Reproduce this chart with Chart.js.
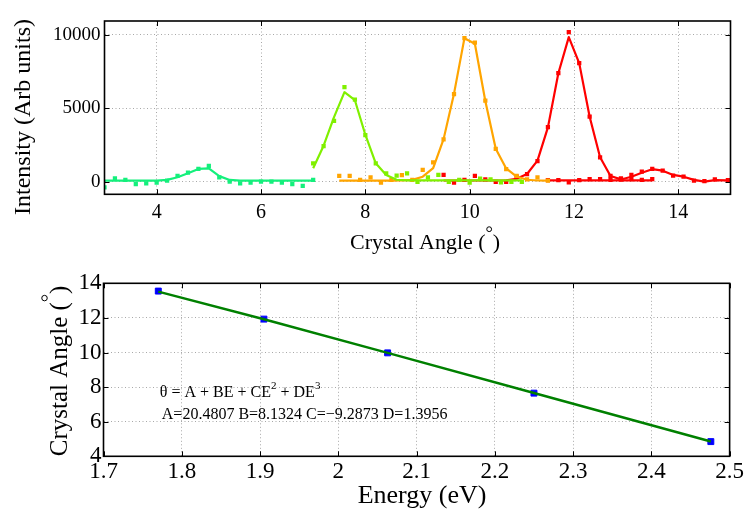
<!DOCTYPE html>
<html>
<head>
<meta charset="utf-8">
<script src="https://cdn.jsdelivr.net/npm/chart.js@4/dist/chart.umd.min.js"></script>
<style>
  html, body { margin: 0; padding: 0; background: #fff; }
  #wrap { position: relative; width: 746px; height: 514px; overflow: hidden; }
  canvas { position: absolute; left: 0; }
  #scanChart { top: 0; }
  #calChart { top: 262px; }
</style>
</head>
<body>
<div id="wrap">
  <canvas id="scanChart" width="746" height="262"></canvas>
  <canvas id="calChart" width="746" height="252"></canvas>
</div>
<script>
// ---- Angle scans (crystal angle in degrees, intensity in arbitrary units) ----
const angle500  = [3.0, 3.2, 3.4, 3.6, 3.8, 4.0, 4.2, 4.4, 4.6, 4.8, 5.0, 5.2, 5.4, 5.6, 5.8, 6.0, 6.2, 6.4, 6.6, 6.8, 7.0];
const counts500 = [-380, 230, 120, -160, -110, -70, 70, 390, 610, 870, 1070, 300, 0, -110, -70, 0, 0, -70, -160, -290, 120];
const fit500    = [70, 70, 70, 70, 70, 70, 120, 300, 580, 870, 910, 380, 120, 75, 70, 70, 70, 70, 70, 70, 70];

const angle550  = [7.0, 7.2, 7.4, 7.6, 7.8, 8.0, 8.2, 8.4, 8.6, 8.8, 9.0, 9.2, 9.4, 9.6, 9.8, 10.0, 10.2, 10.4, 10.6, 10.8, 11.0];
const counts550 = [1250, 2430, 4150, 6440, 5600, 3180, 1250, 570, 410, 570, -20, 300, 460, -20, 120, -70, 200, 160, -40, -20, -20];
const fit550    = [910, 2450, 4400, 6100, 5550, 3200, 1250, 450, 130, 90, 90, 90, 90, 90, 90, 90, 90, 90, 90, 90, 90];

const angle600  = [7.5, 7.7, 7.9, 8.1, 8.3, 8.5, 8.7, 8.9, 9.1, 9.3, 9.5, 9.7, 9.9, 10.1, 10.3, 10.5, 10.7, 10.9, 11.1, 11.3, 11.5];
const counts600 = [390, 390, 120, 300, -70, 120, 440, 120, 800, 1320, 2890, 5960, 9780, 9480, 5520, 2230, 850, 390, 160, 300, 70];
const fit600    = [70, 70, 70, 70, 70, 70, 80, 120, 340, 920, 2900, 6000, 9780, 9400, 5500, 2250, 900, 350, 130, 80, 70];

const angle650  = [9.5, 9.7, 9.9, 10.1, 10.3, 10.5, 10.7, 10.9, 11.1, 11.3, 11.5, 11.7, 11.9, 12.1, 12.3, 12.5, 12.7, 12.9];
const counts650 = [460, -70, 120, 390, 160, -20, -20, 340, 520, 1400, 3710, 7390, 10190, 8080, 4430, 1660, 390, 160];
const fit650    = [80, 80, 80, 80, 80, 80, 90, 200, 520, 1430, 3700, 7390, 9850, 8080, 4430, 1660, 390, 160];

const angle700a  = [11.5, 11.7, 11.9, 12.1, 12.3, 12.5, 12.7, 12.9, 13.1, 13.3, 13.5];
const counts700a = [100, 100, -40, 100, 180, 180, 120, 160, 180, 120, 180];
const fit700a    = [95, 95, 95, 95, 95, 95, 95, 95, 95, 95, 95];

const angle700b  = [12.9, 13.1, 13.3, 13.5, 13.7, 13.9, 14.1, 14.3, 14.5, 14.7, 14.95];
const counts700b = [230, 460, 680, 870, 750, 410, 340, 70, 30, 160, 100];
const fit700b    = [150, 340, 610, 850, 750, 460, 340, 120, 0, 110, 95];

const scanXTicks = [4, 6, 8, 10, 12, 14];
const scanYTicks = [0, 5000, 10000];

// ---- Calibration: peak angle versus photon energy ----
const energy    = [1.77, 1.905, 2.063, 2.25, 2.476];
const peakAngle = [13.55, 11.93, 9.98, 7.65, 4.85];
const fitAngle  = [13.52, 11.92, 9.98, 7.66, 4.86];

const calXTicks = [1.7, 1.8, 1.9, 2.0, 2.1, 2.2, 2.3, 2.4, 2.5];
const calYTicks = [4, 6, 8, 10, 12, 14];

const fitEquation = ['θ = A + BE + CE', '2', ' + DE', '3'];
const fitCoefText = 'A=20.4807 B=8.1324 C=−9.2873 D=1.3956';

// ---------------------------------------------------------------------------
const SERIF = "'Liberation Serif', 'Times New Roman', serif";
const GRID = { color: '#a8a8a8', lineWidth: 1, drawTicks: false };
const DOTS = { display: false, dash: [1, 2.5] };

function pts(xs, ys) { return xs.map((x, i) => ({ x, y: ys[i] })); }

function scanSets(xs, counts, fit, color) {
  return [
    { data: pts(xs, fit), showLine: true, borderColor: color, borderWidth: 2.2,
      pointRadius: 0, tension: 0, borderJoinStyle: 'round' },
    { data: pts(xs, counts), showLine: false, pointStyle: 'rect', pointRadius: 3,
      backgroundColor: color, borderColor: color, borderWidth: 0 }
  ];
}

function fixedTicks(values) {
  return scale => { scale.ticks = values.map(v => ({ value: v })); };
}

// box, inward tick marks and titles
function framePlugin(id, tickLen, drawTitles) {
  return {
    id,
    afterDraw(chart) {
      const { ctx, chartArea: a, scales } = chart;
      ctx.save();
      ctx.strokeStyle = '#000';
      ctx.lineWidth = 1;
      ctx.beginPath();
      scales.x.ticks.forEach(t => {
        const px = Math.round(scales.x.getPixelForValue(t.value)) + 0.5;
        ctx.moveTo(px, a.bottom); ctx.lineTo(px, a.bottom - tickLen);
        ctx.moveTo(px, a.top); ctx.lineTo(px, a.top + tickLen);
      });
      scales.y.ticks.forEach(t => {
        const py = Math.round(scales.y.getPixelForValue(t.value)) + 0.5;
        ctx.moveTo(a.left, py); ctx.lineTo(a.left + tickLen, py);
        ctx.moveTo(a.right, py); ctx.lineTo(a.right - tickLen, py);
      });
      ctx.stroke();
      ctx.lineWidth = 1.6;
      ctx.strokeRect(a.left, a.top, a.right - a.left, a.bottom - a.top);
      ctx.fillStyle = '#000';
      drawTitles(ctx, chart);
      ctx.restore();
    }
  };
}

// "Crystal Angle (°)" with the degree ring raised between the brackets
function angleTitle(ctx, x, y, size, rotated) {
  ctx.save();
  ctx.translate(x, y);
  if (rotated) ctx.rotate(-Math.PI / 2);
  ctx.font = size + 'px ' + SERIF;
  ctx.textBaseline = 'alphabetic';
  ctx.textAlign = 'left';
  const a = 'Crystal Angle (', b = ')';
  const gap = size * 0.32;
  const wa = ctx.measureText(a).width, wb = ctx.measureText(b).width;
  const x0 = -(wa + gap + wb) / 2;
  ctx.fillText(a, x0, 0);
  ctx.fillText(b, x0 + wa + gap, 0);
  ctx.beginPath();
  ctx.lineWidth = 1;
  ctx.strokeStyle = '#000';
  ctx.arc(x0 + wa + gap / 2, -size * 0.9, size * 0.11, 0, Math.PI * 2);
  ctx.stroke();
  ctx.restore();
}

function plainTitle(ctx, text, x, y, size, rotated) {
  ctx.save();
  ctx.translate(x, y);
  if (rotated) ctx.rotate(-Math.PI / 2);
  ctx.font = size + 'px ' + SERIF;
  ctx.textAlign = 'center';
  ctx.textBaseline = 'alphabetic';
  ctx.fillText(text, 0, 0);
  ctx.restore();
}

// ---- Top panel: intensity scans ----
new Chart(document.getElementById('scanChart'), {
  type: 'scatter',
  data: {
    datasets: [
      ...scanSets(angle500, counts500, fit500, '#14f07c'),
      ...scanSets(angle550, counts550, fit550, '#80f000'),
      ...scanSets(angle600, counts600, fit600, '#ffa500'),
      ...scanSets(angle650, counts650, fit650, '#ff0000'),
      ...scanSets(angle700a, counts700a, fit700a, '#ff0000'),
      ...scanSets(angle700b, counts700b, fit700b, '#ff0000')
    ]
  },
  options: {
    responsive: false,
    animation: false,
    events: [],
    layout: { autoPadding: false, padding: { left: 0, right: 15.5, top: 21, bottom: 0 } },
    plugins: { legend: { display: false }, tooltip: { enabled: false } },
    scales: {
      x: {
        type: 'linear', min: 3, max: 15,
        afterBuildTicks: fixedTicks(scanXTicks),
        afterFit: s => { s.height = 262 - 194.3; },
        grid: GRID, border: DOTS,
        ticks: { color: '#000', font: { family: SERIF, size: 20 }, padding: 6, maxRotation: 0,
                 callback: v => String(v) }
      },
      y: {
        type: 'linear', min: -860, max: 10950,
        afterBuildTicks: fixedTicks(scanYTicks),
        afterFit: s => { s.width = 104.5; },
        grid: GRID, border: DOTS,
        ticks: { color: '#000', font: { family: SERIF, size: 19 }, padding: 4,
                 callback: v => String(v) }
      }
    }
  },
  plugins: [framePlugin('scanFrame', 5, (ctx, chart) => {
    angleTitle(ctx, 425, 249, 22, false);
    plainTitle(ctx, 'Intensity (Arb units)', 30, 117, 24, true);
  })]
});

// ---- Bottom panel: calibration curve ----
new Chart(document.getElementById('calChart'), {
  type: 'scatter',
  data: {
    datasets: [
      { data: pts(energy, fitAngle), showLine: true, borderColor: '#008000', borderWidth: 2.5,
        pointRadius: 0, tension: 0, order: 0 },
      { data: pts(energy, peakAngle), showLine: false, pointStyle: 'rect', pointRadius: 4.2,
        backgroundColor: '#0000ff', borderColor: '#0000ff', borderWidth: 1, order: 1 }
    ]
  },
  options: {
    responsive: false,
    animation: false,
    events: [],
    layout: { autoPadding: false, padding: { left: 0, right: 6.5, top: 21.3, bottom: 0 } },
    plugins: { legend: { display: false }, tooltip: { enabled: false } },
    scales: {
      x: {
        type: 'linear', min: 1.7, max: 2.5,
        afterBuildTicks: fixedTicks(calXTicks),
        afterFit: s => { s.height = 252 - 194.3; },
        grid: GRID, border: DOTS,
        ticks: { color: '#000', font: { family: SERIF, size: 23 }, padding: 2, maxRotation: 0,
                 callback: v => String(Number(v.toFixed(1))) }
      },
      y: {
        type: 'linear', min: 4, max: 14,
        afterBuildTicks: fixedTicks(calYTicks),
        afterFit: s => { s.width = 103.5; },
        grid: GRID, border: DOTS,
        ticks: { color: '#000', font: { family: SERIF, size: 23 }, padding: 2,
                 callback: v => String(v) }
      }
    }
  },
  plugins: [framePlugin('calFrame', 5, (ctx, chart) => {
    const { x: sx, y: sy } = chart.scales;
    // fit equation and coefficients, anchored in data space
    let px = sx.getPixelForValue(1.772);
    const base1 = sy.getPixelForValue(7.42);
    const base2 = sy.getPixelForValue(6.13);
    ctx.textAlign = 'left';
    ctx.textBaseline = 'alphabetic';
    fitEquation.forEach((part, i) => {
      const sup = i % 2 === 1;
      ctx.font = (sup ? 11 : 16) + 'px ' + SERIF;
      ctx.fillText(part, px, sup ? base1 - 8 : base1);
      px += ctx.measureText(part).width;
    });
    ctx.font = '16px ' + SERIF;
    ctx.fillText(fitCoefText, sx.getPixelForValue(1.7745), base2);
    angleTitle(ctx, 67, 109, 25, true);
    plainTitle(ctx, 'Energy (eV)', 422, 241, 26, false);
  })]
});
</script>
</body>
</html>
